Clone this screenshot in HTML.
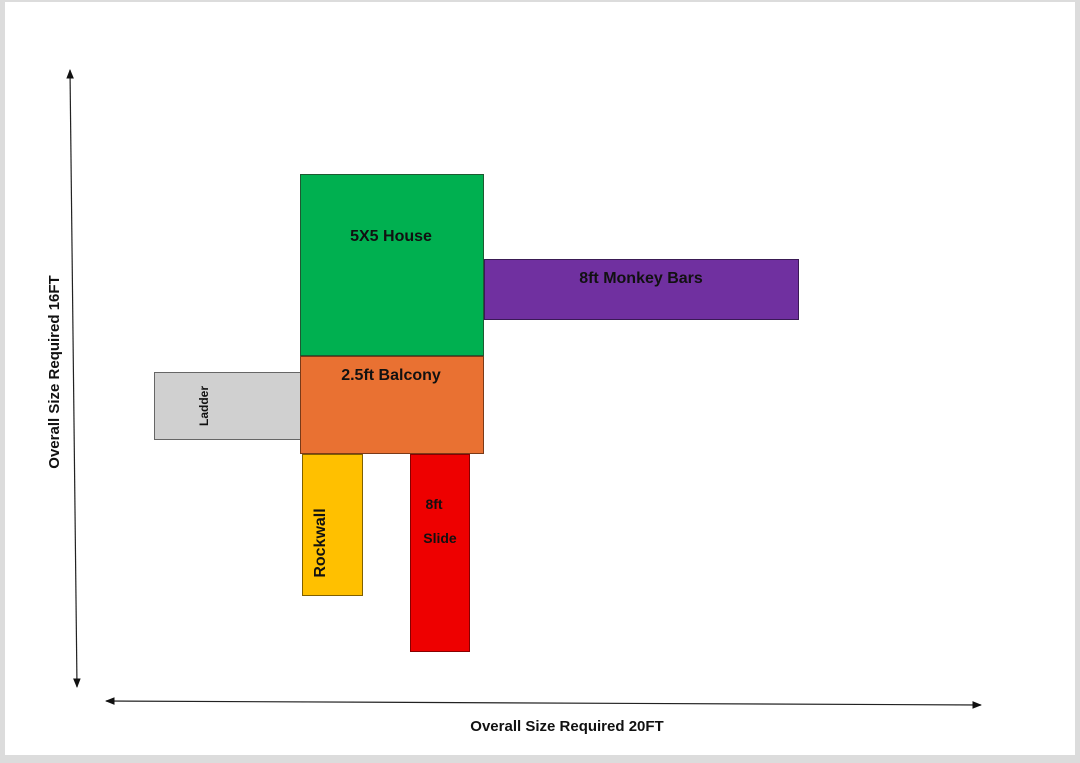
<!DOCTYPE html>
<html><head><meta charset="utf-8"><style>
html,body{margin:0;padding:0;background:#dcdcdc;}
svg{display:block;}
text{font-family:"Liberation Sans",sans-serif;font-weight:bold;fill:#111;}
</style></head><body>
<svg width="1080" height="763" viewBox="0 0 1080 763" xmlns="http://www.w3.org/2000/svg">
<rect x="0" y="0" width="1080" height="763" fill="#dcdcdc"/>
<rect x="5" y="2" width="1070" height="753" fill="#ffffff"/>
<defs>
<marker id="ah" viewBox="0 0 10 10" refX="9" refY="5" markerWidth="8" markerHeight="8" orient="auto-start-reverse">
<path d="M0,1 L10,5 L0,9 z" fill="#111"/></marker>
</defs>
<line x1="70" y1="70" x2="77" y2="687" stroke="#222" stroke-width="1.2" marker-start="url(#ah)" marker-end="url(#ah)"/>
<line x1="106" y1="701" x2="981" y2="705" stroke="#222" stroke-width="1.2" marker-start="url(#ah)" marker-end="url(#ah)"/>
<rect x="300.5" y="174.5" width="183" height="181" fill="#00b050" stroke="#1e5a32" stroke-width="1"/>
<rect x="484.5" y="259.5" width="314" height="60" fill="#7030a0" stroke="#3a1a55" stroke-width="1"/>
<rect x="154.5" y="372.5" width="146" height="67" fill="#d0d0d0" stroke="#666" stroke-width="1"/>
<rect x="300.5" y="356.5" width="183" height="97" fill="#e97132" stroke="#7a3a18" stroke-width="1"/>
<rect x="302.5" y="454.5" width="60" height="141" fill="#ffc000" stroke="#806000" stroke-width="1"/>
<rect x="410.5" y="454.5" width="59" height="197" fill="#ee0000" stroke="#800" stroke-width="1"/>
<text x="391" y="241" font-size="16" text-anchor="middle">5X5 House</text>
<text x="641" y="283" font-size="16" text-anchor="middle">8ft Monkey Bars</text>
<text x="391" y="380" font-size="16" text-anchor="middle">2.5ft Balcony</text>
<text transform="translate(208,406) rotate(-90)" font-size="12" text-anchor="middle">Ladder</text>
<text transform="translate(325,543) rotate(-90)" font-size="16" text-anchor="middle">Rockwall</text>
<text x="434" y="509" font-size="14" text-anchor="middle" fill="#330000">8ft</text>
<text x="440" y="543" font-size="14" text-anchor="middle" fill="#330000">Slide</text>
<text transform="translate(59,372) rotate(-90)" font-size="15" text-anchor="middle">Overall Size Required 16FT</text>
<text x="567" y="731" font-size="15" text-anchor="middle">Overall Size Required 20FT</text>
</svg>
</body></html>
